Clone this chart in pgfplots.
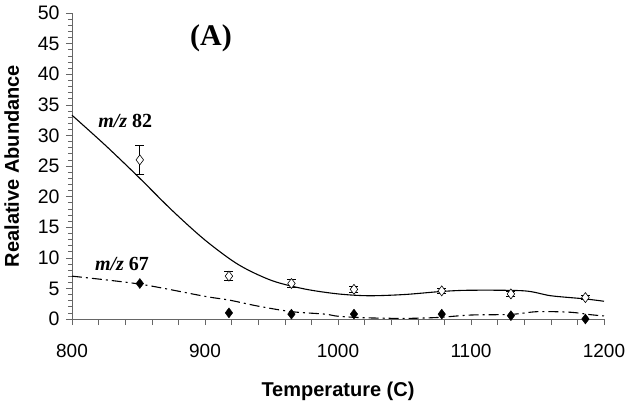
\documentclass[border=0pt]{standalone}
\usepackage{fontspec}
\setmainfont{Liberation Sans}
\newfontfamily\timesfont{Liberation Serif}
\usepackage{pgfplots}
\pgfplotsset{compat=1.18}
\begin{document}
\begin{tikzpicture}
\begin{axis}[
    scale only axis,
    width=532bp, height=306bp,
    xmin=800, xmax=1200,
    ymin=0, ymax=50,
    axis x line*=bottom,
    axis y line*=left,
    axis line style={line width=0.6pt, draw=black!60},
    tick align=outside,
    tick style={line width=0.6pt, draw=black!60},
    major tick length=6bp,
    minor tick length=4bp,
    xtick={800,820,...,1200},
    xticklabels={800,,,,,900,,,,,1000,,,,,1100,,,,,1200},
    ytick={0,5,...,50},
    minor ytick={0,1,...,50},
    /pgf/number format/assume math mode=true,
    /pgf/number format/1000 sep={},
    xticklabel style={font=\fontsize{19bp}{22bp}\selectfont, yshift=-16bp},
    yticklabel style={font=\fontsize{19.5bp}{22bp}\selectfont, xshift=-3bp},
    xlabel={\textbf{Temperature (C)}},
    ylabel={\textbf{Realative Abundance}},
    label style={font=\fontsize{20bp}{23bp}\selectfont},
    xlabel style={yshift=-17bp},
    ylabel style={yshift=12bp},
    clip=false,
]
% fitted curve m/z 82
\addplot[black, line width=1.1pt, smooth, tension=0.5] coordinates {
(800,33.3) (825,28.4) (850,23.2) (875,17.8) (900,12.9) (925,8.9) (950,6.3)
(975,4.9) (1000,4.1) (1023,3.8) (1050,4.0) (1078,4.5) (1100,4.7) (1140,4.6)
(1160,3.8) (1185,3.3) (1200,2.9)};
% fitted curve m/z 67
\addplot[black, line width=1.1pt, smooth, tension=0.5,
    dash pattern=on 10bp off 4bp on 2bp off 4bp] coordinates {
(800,7.0) (851,5.7) (900,3.7) (918,3.1) (940,2.1) (965,1.2) (990,0.8)
(1000,0.45) (1020,0.2) (1050,0.1) (1075,0.25) (1100,0.65) (1130,0.75)
(1150,1.2) (1175,1.1) (1190,0.7) (1200,0.5)};
% measured m/z 82
\addplot[only marks, mark=diamond*, mark size=5bp,
    mark options={fill=white, draw=black, line width=0.6pt},
    error bars/.cd, y dir=both, y explicit,
    error mark options={rotate=90, mark size=4.5bp, line width=0.8pt, black},
    error bar style={line width=0.8pt, black}]
coordinates {
(851,26.0) +- (0,2.4)
(918,7.0) +- (0,0.7)
(965,5.8) +- (0,0.6)
(1012,4.85) +- (0,0.5)
(1078,4.6) +- (0,0.4)
(1130,4.1) +- (0,0.4)
(1186,3.5) +- (0,0.35)};
% measured m/z 67
\addplot[only marks, mark=diamond*, mark size=5bp,
    mark options={fill=black, draw=black}]
coordinates {
(851,5.8) (918,1.0) (965,0.8) (1012,0.8) (1078,0.8) (1130,0.55) (1186,0.0)};
\node[font=\timesfont\fontsize{30bp}{33bp}\selectfont\bfseries] at (axis cs:904.5,45.9) {(A)};
\node[font=\timesfont\fontsize{20bp}{23bp}\selectfont\bfseries] at (axis cs:840,32.4) {\textit{m/z} 82};
\node[font=\timesfont\fontsize{20bp}{23bp}\selectfont\bfseries] at (axis cs:837.6,9.0) {\textit{m/z} 67};
\end{axis}
\pgfresetboundingbox
\path ([xshift=-72bp,yshift=-82bp]current axis.south west) rectangle ([xshift=26bp,yshift=13bp]current axis.north east);
\end{tikzpicture}
\end{document}
